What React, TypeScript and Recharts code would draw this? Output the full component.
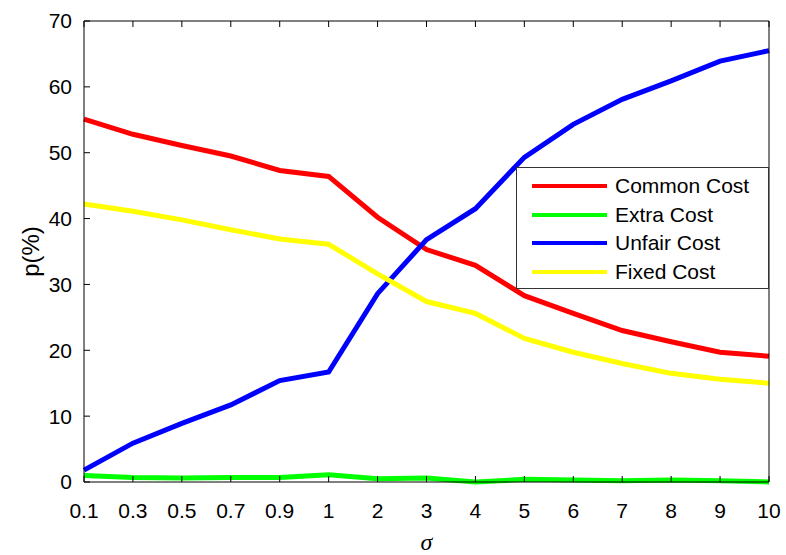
import React from 'react';
import { LineChart, Line, XAxis, YAxis, Legend } from 'recharts';

const sigmaLabels = ['0.1', '0.3', '0.5', '0.7', '0.9', '1', '2', '3', '4', '5', '6', '7', '8', '9', '10'];
const commonCost = [55.1, 52.8, 51.1, 49.5, 47.3, 46.4, 40.2, 35.3, 32.9, 28.3, 25.6, 23.0, 21.3, 19.7, 19.1];
const extraCost = [1.0, 0.7, 0.6, 0.7, 0.7, 1.1, 0.5, 0.6, 0.0, 0.4, 0.3, 0.2, 0.3, 0.2, 0.0];
const unfairCost = [1.8, 5.9, 8.9, 11.7, 15.4, 16.7, 28.6, 36.8, 41.5, 49.3, 54.3, 58.1, 60.9, 63.9, 65.5];
const fixedCost = [42.2, 41.1, 39.8, 38.3, 36.9, 36.1, 31.6, 27.4, 25.6, 21.8, 19.7, 18.0, 16.5, 15.6, 15.0];
const yTicks = [0, 10, 20, 30, 40, 50, 60, 70];

const series = [
  { key: 'common', name: 'Common Cost', color: '#ff0000' },
  { key: 'extra', name: 'Extra Cost', color: '#00ff00' },
  { key: 'unfair', name: 'Unfair Cost', color: '#0000ff' },
  { key: 'fixed', name: 'Fixed Cost', color: '#ffff00' },
];

const data = sigmaLabels.map((s, i) => ({
  sigma: s,
  common: commonCost[i],
  extra: extraCost[i],
  unfair: unfairCost[i],
  fixed: fixedCost[i],
}));

const font = 'Arial, "Liberation Sans", Helvetica, sans-serif';
const tickStyle = { fill: '#000', fontSize: 21, fontFamily: font };
const blank = () => '';

const MatlabLegend = () => (
  <div
    style={{
      width: 251,
      height: 116,
      border: '1px solid #333',
      background: '#fff',
      fontFamily: font,
      fontSize: 21,
      color: '#000',
      boxSizing: 'content-box',
      paddingTop: 4,
    }}
  >
    {series.map((s) => (
      <div key={s.key} style={{ display: 'flex', alignItems: 'center', height: 28.5 }}>
        <div style={{ marginLeft: 15, width: 75, height: 4, background: s.color }} />
        <span style={{ marginLeft: 8, lineHeight: '28px' }}>{s.name}</span>
      </div>
    ))}
  </div>
);

export default function App() {
  return (
    <div style={{ position: 'absolute', left: 0, top: 0, background: '#fff' }}>
      <LineChart
        width={786}
        height={555}
        data={data}
        margin={{ top: 20, right: 16, bottom: 5, left: 24 }}
      >
        <XAxis
          dataKey="sigma"
          height={68}
          stroke="#000"
          tickSize={-6}
          tickMargin={27}
          tick={tickStyle}
          interval={0}
          label={{
            value: 'σ',
            position: 'insideBottom',
            offset: 0,
            style: { fill: '#000', fontSize: 24, fontStyle: 'italic', fontFamily: '"Liberation Serif", "Times New Roman", serif' },
          }}
        />
        <XAxis
          xAxisId="top"
          orientation="top"
          dataKey="sigma"
          height={1}
          stroke="#000"
          tickSize={-6}
          tickMargin={0}
          interval={0}
          tickFormatter={blank}
        />
        <YAxis
          width={60}
          domain={[0, 70]}
          ticks={yTicks}
          stroke="#000"
          tickSize={-6}
          tickMargin={18}
          tick={tickStyle}
          label={{
            value: 'p(%)',
            angle: -90,
            position: 'insideLeft',
            offset: 6,
            style: { fill: '#000', fontSize: 24, fontFamily: font, textAnchor: 'middle' },
          }}
        />
        <YAxis
          yAxisId="right"
          orientation="right"
          width={1}
          domain={[0, 70]}
          ticks={yTicks}
          stroke="#000"
          tickSize={-6}
          tickMargin={0}
          tickFormatter={blank}
        />
        {series.map((s) => (
          <Line
            key={s.key}
            type="linear"
            dataKey={s.key}
            name={s.name}
            stroke={s.color}
            strokeWidth={5}
            dot={false}
            isAnimationActive={false}
          />
        ))}
        <Legend
          layout="vertical"
          align="center"
          verticalAlign="middle"
          content={<MatlabLegend />}
          wrapperStyle={{ position: 'absolute', left: 516, top: 167, width: 253, height: 122 }}
        />
      </LineChart>
    </div>
  );
}
